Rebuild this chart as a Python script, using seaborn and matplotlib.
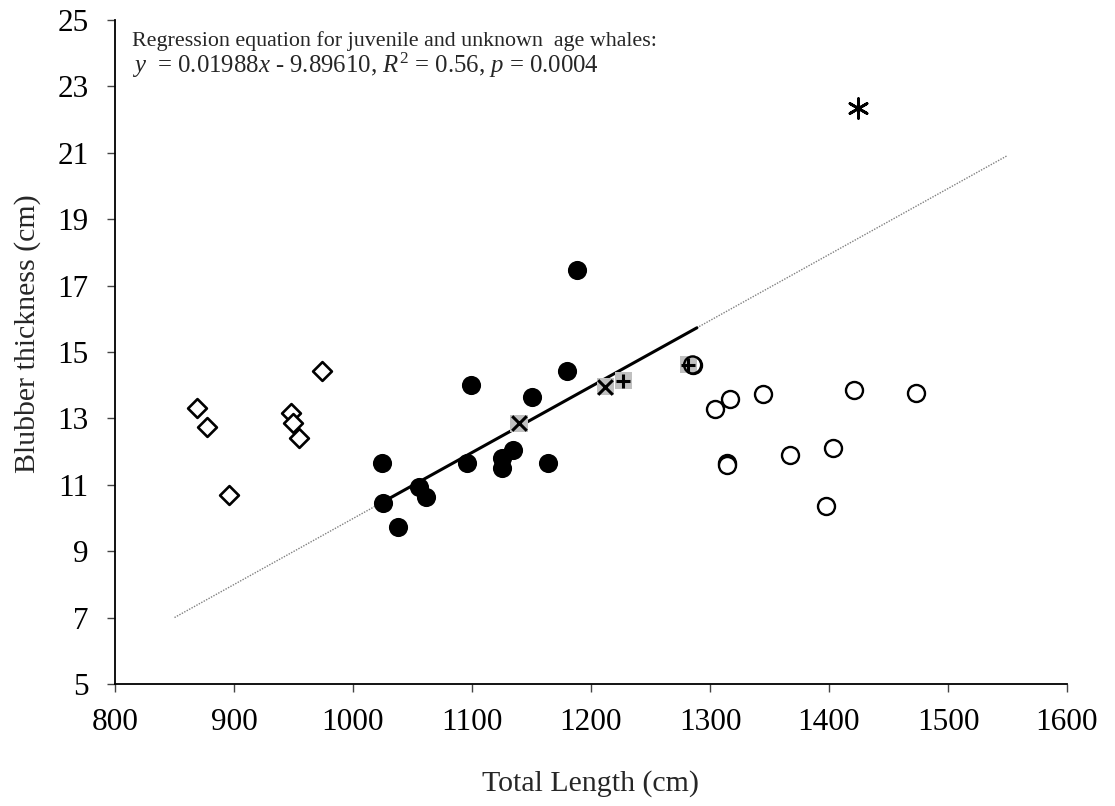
import numpy as np
import pandas as pd
import matplotlib
matplotlib.use("Agg")
import matplotlib.pyplot as plt
import seaborn as sns

# --- data: total length (cm) and blubber thickness (cm) by group ---
calf_len = [868.6, 877.0, 895.8, 947.9, 949.8, 954.9, 974.3]
calf_blub = [13.32, 12.73, 10.69, 13.15, 12.87, 12.40, 14.43]

juv_len = [1024.1, 1025.0, 1037.6, 1055.7, 1061.3, 1095.5, 1099.2,
           1124.9, 1124.9, 1134.7, 1150.1, 1164.1, 1179.5, 1188.5]
juv_blub = [11.67, 10.46, 9.72, 10.94, 10.62, 11.67, 14.00,
            11.80, 11.51, 12.05, 13.65, 11.67, 14.43, 17.47]

unk_x_len = [1139.5, 1211.8]
unk_x_blub = [12.85, 13.95]

unk_plus_len = [1227.1, 1281.8]
unk_plus_blub = [14.14, 14.61]

adult_len = [1285.4, 1304.2, 1316.8, 1344.8, 1421.3, 1473.1,
             1314.0, 1314.0, 1367.2, 1403.1, 1397.5]
adult_blub = [14.61, 13.27, 13.58, 13.72, 13.86, 13.77,
              11.67, 11.60, 11.90, 12.10, 10.37]

preg_len = [1424.6]
preg_blub = [22.34]

# regression for juvenile and unknown-age whales
slope = 0.01988
intercept = -9.89610
fit_range_full = [850, 1550]
fit_range_data = [1025, 1289]

x_ticks = list(range(800, 1601, 100))
y_ticks = list(range(5, 26, 2))

sns.set_style("ticks")
plt.rcParams["font.family"] = ["Liberation Serif", "DejaVu Serif"]
plt.rcParams["mathtext.fontset"] = "custom"
plt.rcParams["mathtext.rm"] = "Liberation Serif"
plt.rcParams["mathtext.it"] = "Liberation Serif:italic"

fig = plt.figure(figsize=(11.15, 8.06), dpi=100)
ax = fig.add_axes([115 / 1115, 122 / 806, 952 / 1115, 664 / 806])

# regression lines
xf = np.array(fit_range_full, dtype=float)
sns.lineplot(x=xf, y=slope * xf + intercept, ax=ax, color="#808080",
             lw=1.0, linestyle=(0, (1, 1)), zorder=1)
xd = np.array(fit_range_data, dtype=float)
sns.lineplot(x=xd, y=slope * xd + intercept, ax=ax, color="black",
             lw=2.2, zorder=2)

# calves: open diamonds
sns.scatterplot(x=calf_len, y=calf_blub, ax=ax, marker="D", s=92,
                facecolor="white", edgecolor="black", linewidth=1.9, zorder=3)
# juveniles: filled circles
sns.scatterplot(x=juv_len, y=juv_blub, ax=ax, marker="o", s=190,
                color="black", edgecolor="black", linewidth=0, zorder=3)
# adults: open circles
sns.scatterplot(x=adult_len, y=adult_blub, ax=ax, marker="o", s=150,
                facecolor="white", edgecolor="black", linewidth=1.7, zorder=3)
# unknown age: grey squares with x / + marks
for lx, ly, m in [(unk_x_len, unk_x_blub, "x"), (unk_plus_len, unk_plus_blub, "+")]:
    sns.scatterplot(x=lx, y=ly, ax=ax, marker="s", s=150, color="#c0c0c0",
                    edgecolor="none", linewidth=0, zorder=4)
    sns.scatterplot(x=lx, y=ly, ax=ax, marker=m, s=110, color="black",
                    linewidth=2.2, zorder=5)
# redraw overlapping adult circle outline on top of the grey square
sns.scatterplot(x=adult_len[:1], y=adult_blub[:1], ax=ax, marker="o", s=150,
                facecolor="none", edgecolor="black", linewidth=1.7, zorder=6)
# pregnant female: asterisk
sns.scatterplot(x=preg_len, y=preg_blub, ax=ax, marker=(6, 2, 0), s=200,
                color="black", linewidth=2.0, zorder=5)

ax.set_xlim(800, 1600)
ax.set_ylim(5, 25)
ax.set_xticks(x_ticks)
ax.set_yticks(y_ticks)
ax.tick_params(axis="both", direction="out", length=6, width=1,
               color="#444444", labelsize=22.5, labelcolor="black",
               bottom=True, left=True)
ax.tick_params(axis="x", pad=11)
ax.tick_params(axis="y", pad=13)

for side in ["top", "right"]:
    ax.spines[side].set_visible(False)
for side in ["left", "bottom"]:
    ax.spines[side].set_color("black")
    ax.spines[side].set_linewidth(1.3)

ax.set_xlabel("Total Length (cm)", fontsize=21.5)
ax.set_ylabel("Blubber thickness (cm)", fontsize=21.5)
ax.xaxis.set_label_coords(0.5, (684 - 784) / 664)
ax.xaxis.label.set_va("center")
ax.yaxis.set_label_coords((28 - 115) / 952, (684 - 334) / 664)
ax.yaxis.label.set_va("center")

ax.text(0.0179, (684 - 46) / 664,
        "Regression equation for juvenile and unknown  age whales:",
        transform=ax.transAxes, fontsize=15.8, va="baseline", ha="left")
ax.text(0.0179, (684 - 73) / 664,
        r"$y$  = 0.01988$x$ - 9.89610, $R^2$ = 0.56, $p$ = 0.0004",
        transform=ax.transAxes, fontsize=17.8, va="baseline", ha="left")

fig.savefig("out.png", dpi=100, facecolor="white")
